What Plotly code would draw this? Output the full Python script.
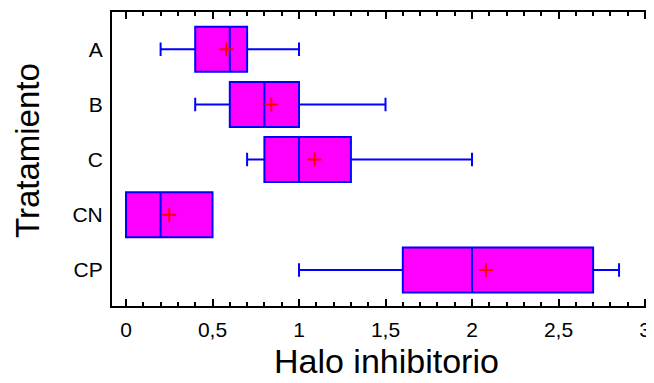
import plotly.graph_objects as go

categories = ["A", "B", "C", "CN", "CP"]
q1 = [0.4, 0.6, 0.8, 0.0, 1.6]
median = [0.6, 0.8, 1.0, 0.2, 2.0]
q3 = [0.7, 1.0, 1.3, 0.5, 2.7]
lowerfence = [0.2, 0.4, 0.7, 0.0, 1.0]
upperfence = [1.0, 1.5, 2.0, 0.5, 2.85]
means = [0.58, 0.84, 1.09, 0.25, 2.08]

x_title = "Halo inhibitorio"
y_title = "Tratamiento"

FONT = "Arial, Liberation Sans, sans-serif"
# the page body has an 8px margin, so the figure is 8px smaller on each side
W, H = 646, 375
ML, MR, MT, MB = 104, 0, 4, 77

fig = go.Figure()
fig.add_trace(go.Box(
    y=categories, q1=q1, median=median, q3=q3,
    lowerfence=lowerfence, upperfence=upperfence,
    orientation="h", boxpoints=False,
    fillcolor="#FF00FF", line=dict(color="#0000FF", width=2),
    width=0.815, whiskerwidth=0.3, showlegend=False, hoverinfo="skip",
))
fig.add_trace(go.Scatter(
    x=means, y=categories, mode="markers",
    marker=dict(symbol="cross-thin", size=10, line=dict(color="#FF0000", width=2)),
    showlegend=False, hoverinfo="skip",
))

plot_w = W - ML - MR
plot_h = H - MT - MB
def px_x(px):
    return (px - 8 - ML) / plot_w
def px_y(py):
    return (H - MB - (py - 8)) / plot_h

fig.update_layout(
    width=W, height=H,
    margin=dict(l=ML, r=MR, t=MT, b=MB, autoexpand=False),
    plot_bgcolor="white", paper_bgcolor="white",
    separators=",.",
    font=dict(family=FONT, color="black"),
    xaxis=dict(
        range=[-0.081, 3.052], tick0=0, dtick=0.5,
        showgrid=False, zeroline=False,
        showline=True, linecolor="black", linewidth=2, mirror="ticks",
        ticks="inside", ticklen=7, tickwidth=2, tickcolor="black",
        minor=dict(dtick=0.1, ticks="inside", ticklen=4, tickwidth=2, tickcolor="black", showgrid=False),
        tickfont=dict(size=21, family=FONT),
        ticklabelstandoff=4, ticklabeloverflow="allow",
    ),
    yaxis=dict(
        type="category", categoryorder="array", categoryarray=categories,
        range=[4.652, -0.674],
        showgrid=False, zeroline=False,
        showline=True, linecolor="black", linewidth=2, mirror=False,
        ticks="", tickfont=dict(size=21, family=FONT),
        ticklabelstandoff=3,
    ),
    annotations=[
        dict(text=x_title, x=px_x(386), y=px_y(361), xref="paper", yref="paper",
             xanchor="center", yanchor="middle", showarrow=False,
             font=dict(size=34, family=FONT)),
        dict(text=y_title, textangle=-90, x=px_x(27), y=px_y(151), xref="paper", yref="paper",
             xanchor="center", yanchor="middle", showarrow=False,
             font=dict(size=33, family=FONT)),
    ],
)

fig.write_html("out.html")
